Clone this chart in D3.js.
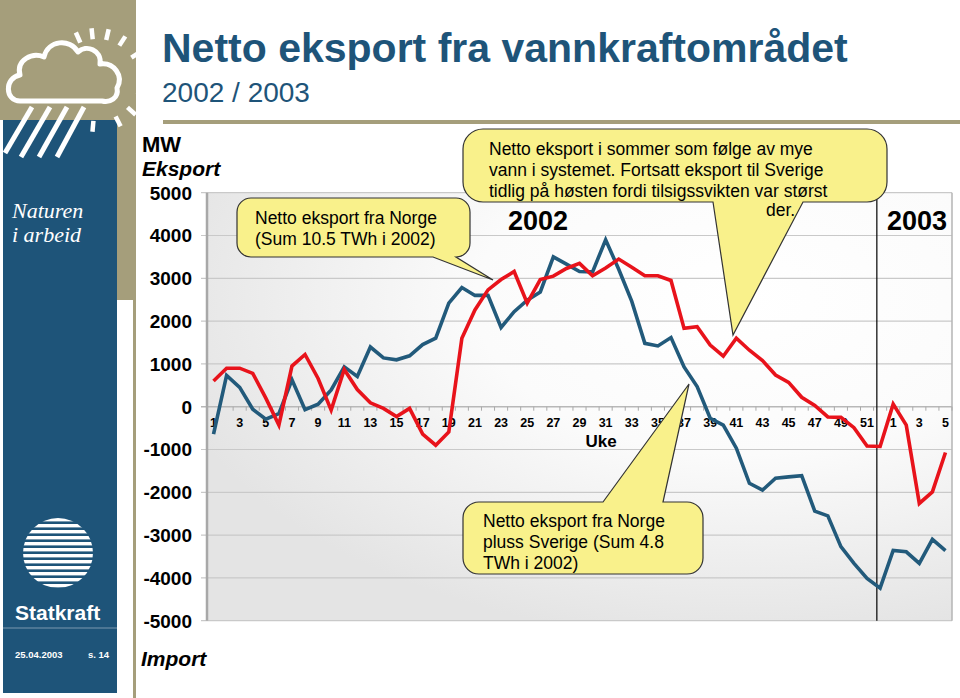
<!DOCTYPE html>
<html><head><meta charset="utf-8">
<script src="https://cdn.jsdelivr.net/npm/d3@7"></script>
<style>body{margin:0;background:#fff;} svg{display:block;font-family:"Liberation Sans",Arial,sans-serif;}</style>
</head><body><svg id="c" width="960" height="698"></svg>
<script>
// ---- data ----
const weeks = [1,2,3,4,5,6,7,8,9,10,11,12,13,14,15,16,17,18,19,20,21,22,23,24,25,26,27,28,29,30,31,32,33,34,35,36,37,38,39,40,41,42,43,44,45,46,47,48,49,50,51,52,1,2,3,4,5];
const norge = [600,900,900,780,200,-430,950,1220,660,-80,870,400,90,-40,-230,-40,-640,-900,-590,1600,2260,2730,2970,3160,2420,2970,3050,3230,3350,3060,3240,3450,3260,3060,3060,2950,1830,1870,1440,1180,1600,1320,1080,740,570,220,30,-240,-250,-490,-920,-930,60,-430,-2260,-1990,-1070];
const norgeSverige = [-640,730,450,-60,-290,-160,630,-70,60,390,930,705,1395,1140,1095,1190,1450,1600,2420,2785,2600,2600,1850,2220,2490,2680,3500,3330,3160,3150,3900,3210,2460,1480,1420,1615,930,470,-270,-430,-970,-1790,-1950,-1670,-1640,-1610,-2440,-2550,-3270,-3660,-4010,-4240,-3360,-3390,-3660,-3100,-3360];
const yTicks = [5000,4000,3000,2000,1000,0,-1000,-2000,-3000,-4000,-5000];
const yearLabels = ["2002","2003"];
const callout1 = ["Netto eksport fra Norge","(Sum 10.5 TWh i 2002)"];
const callout2 = ["Netto eksport i sommer som følge av mye","vann i systemet. Fortsatt eksport til Sverige","tidlig på høsten fordi tilsigssvikten var størst"];
const callout3 = ["Netto eksport fra Norge","pluss Sverige (Sum 4.8","TWh i 2002)"];

const svg = d3.select("#c");
const KHAKI = "#a59e7b", BLUE = "#1e5479", YEL = "#f9f18b";
const RED = "#e8131b", LBLUE = "#225a7b";

// ---- sidebar ----
svg.append("rect").attr("x",0).attr("y",0).attr("width",136).attr("height",120).attr("fill",KHAKI);
svg.append("rect").attr("x",117).attr("y",0).attr("width",19).attr("height",300).attr("fill",KHAKI);
svg.append("rect").attr("x",133).attr("y",0).attr("width",3).attr("height",698).attr("fill",KHAKI);
svg.append("rect").attr("x",3).attr("y",120).attr("width",114).attr("height",573).attr("fill",BLUE);
// icon
const ic = svg.append("g").attr("fill","none").attr("stroke","#fff").attr("stroke-linecap","butt");
const sunC = [97,80];
[-114,-96,-77,-57,-33,-12,16,42,63,95].forEach(a=>{
  const r = a*Math.PI/180;
  ic.append("line").attr("x1",sunC[0]+41*Math.cos(r)).attr("y1",sunC[1]+41*Math.sin(r))
    .attr("x2",sunC[0]+52*Math.cos(r)).attr("y2",sunC[1]+52*Math.sin(r)).attr("stroke-width",4.5);
});
ic.append("path").attr("stroke-width",5).attr("stroke-linejoin","round")
  .attr("d","M20 101 C5 101,4 78,20 75 C16 60,32 52,44 57 C48 40,70 38,78 52 C86 44,102 50,100 64 C114 62,124 76,117 88 C119 98,110 103,102 101 Z");
[[32,107,5,153],[50,107,21,157],[67,107,39,157],[84,107,57,157]].forEach(l=>{
  ic.append("line").attr("x1",l[0]).attr("y1",l[1]).attr("x2",l[2]).attr("y2",l[3]).attr("stroke-width",5);
});
svg.append("text").attr("x",12).attr("y",218).attr("fill","#fff").attr("font-family","'Liberation Serif',serif").attr("font-style","italic").attr("font-size",22).text("Naturen");
svg.append("text").attr("x",12).attr("y",242).attr("fill","#fff").attr("font-family","'Liberation Serif',serif").attr("font-style","italic").attr("font-size",22).text("i arbeid");
// statkraft globe
const defs = svg.append("defs");
defs.append("clipPath").attr("id","globe").append("circle").attr("cx",58).attr("cy",553).attr("r",35);
const gl = svg.append("g").attr("clip-path","url(#globe)");
for(let i=0;i<12;i++){
  gl.append("rect").attr("x",20).attr("y",518+i*6).attr("width",80).attr("height",3.4).attr("fill","#fff");
}
gl.append("path").attr("fill",BLUE).attr("d","M23 518 A35 35 0 0 0 23 588 A40 40 0 0 1 23 518 Z");
svg.append("text").attr("x",15).attr("y",620).attr("fill","#fff").attr("font-weight","bold").attr("font-size",21).text("Statkraft");
svg.append("line").attr("x1",3).attr("x2",117).attr("y1",628).attr("y2",628).attr("stroke","#7a98b0").attr("stroke-width",1);
svg.append("text").attr("x",15).attr("y",658).attr("fill","#fff").attr("font-weight","bold").attr("font-size",9.5).text("25.04.2003");
svg.append("text").attr("x",88).attr("y",658).attr("fill","#fff").attr("font-weight","bold").attr("font-size",9.5).text("s. 14");

// ---- title ----
svg.append("rect").attr("x",163).attr("y",120).attr("width",797).attr("height",4).attr("fill",KHAKI);
svg.append("text").attr("x",162).attr("y",62).attr("fill",BLUE).attr("font-weight","bold").attr("font-size",41).text("Netto eksport fra vannkraftområdet");
svg.append("text").attr("x",162).attr("y",102).attr("fill",BLUE).attr("font-size",28).text("2002 / 2003");

// ---- plot ----
const L=207, R=952, T=192.7, B=620.7;
const x = d3.scalePoint().domain(d3.range(weeks.length)).range([L,R]).padding(0.5);
const y = d3.scaleLinear().domain([-5000,5000]).range([B,T]);

const rg = defs.append("radialGradient").attr("id","bg").attr("cx","0.72").attr("cy","0.25").attr("r","0.8");
rg.append("stop").attr("offset","0").attr("stop-color","#ffffff");
rg.append("stop").attr("offset","0.45").attr("stop-color","#fbfbfb");
rg.append("stop").attr("offset","1").attr("stop-color","#e4e4e4");
svg.append("rect").attr("x",L).attr("y",T).attr("width",R-L).attr("height",B-T).attr("fill","url(#bg)");

// grid
svg.append("g").selectAll("line").data(yTicks).join("line")
  .attr("x1",L-6).attr("x2",R).attr("y1",d=>y(d)).attr("y2",d=>y(d))
  .attr("stroke",d=>d===0?"#b8b8b8":"#c9c9c9").attr("stroke-width",d=>d===0?1.5:1.2);
svg.append("line").attr("x1",L).attr("x2",L).attr("y1",T).attr("y2",B).attr("stroke","#a8a8a8").attr("stroke-width",2.5);
svg.append("line").attr("x1",R).attr("x2",R).attr("y1",T).attr("y2",B).attr("stroke","#b5b5b5").attr("stroke-width",1.5);

// y tick labels
svg.append("g").selectAll("text").data(yTicks).join("text")
  .attr("x",192).attr("y",d=>y(d)).attr("dy","0.36em").attr("text-anchor","end")
  .attr("font-weight","bold").attr("font-size",19).attr("fill","#000").text(d=>d);
svg.append("text").attr("x",142).attr("y",152).attr("font-weight","bold").attr("font-size",22).text("MW");
svg.append("text").attr("x",142).attr("y",176).attr("font-weight","bold").attr("font-style","italic").attr("font-size",21).text("Eksport");
svg.append("text").attr("x",141).attr("y",666).attr("font-weight","bold").attr("font-style","italic").attr("font-size",21).text("Import");

// x axis ticks on zero line
const step = x.step();
svg.append("g").selectAll("line").data(d3.range(weeks.length+1)).join("line")
  .attr("x1",i=>L+i*step).attr("x2",i=>L+i*step).attr("y1",y(0)).attr("y2",y(0)+4)
  .attr("stroke","#aaa").attr("stroke-width",1);
svg.append("g").selectAll("text").data(weeks.map((w,i)=>({w,i})).filter(d=>d.w%2===1)).join("text")
  .attr("x",d=>x(d.i)).attr("y",y(0)+20).attr("text-anchor","middle")
  .attr("font-weight","bold").attr("font-size",12.5).text(d=>d.w);
svg.append("text").attr("x",601).attr("y",447).attr("text-anchor","middle").attr("font-weight","bold").attr("font-size",17).text("Uke");

// year divider
const divX = x(51) - step*0.25;
svg.append("line").attr("x1",divX).attr("x2",divX).attr("y1",T).attr("y2",B).attr("stroke","#000").attr("stroke-width",1.2);

// year labels
svg.append("text").attr("x",508).attr("y",230).attr("font-weight","bold").attr("font-size",27).text(yearLabels[0]);
svg.append("text").attr("x",887).attr("y",230).attr("font-weight","bold").attr("font-size",27).text(yearLabels[1]);

// ---- callouts ----
function calloutPath(x0,y0,x1,y1,r,side,b1,b2,tx,ty){
  if(side==="bottom"){
    return `M${x0+r},${y0} H${x1-r} A${r},${r} 0 0 1 ${x1},${y0+r} V${y1-r} A${r},${r} 0 0 1 ${x1-r},${y1} H${b2} L${tx},${ty} L${b1},${y1} H${x0+r} A${r},${r} 0 0 1 ${x0},${y1-r} V${y0+r} A${r},${r} 0 0 1 ${x0+r},${y0} Z`;
  } else {
    return `M${x0+r},${y0} H${b1} L${tx},${ty} L${b2},${y0} H${x1-r} A${r},${r} 0 0 1 ${x1},${y0+r} V${y1-r} A${r},${r} 0 0 1 ${x1-r},${y1} H${x0+r} A${r},${r} 0 0 1 ${x0},${y1-r} V${y0+r} A${r},${r} 0 0 1 ${x0+r},${y0} Z`;
  }
}
const co = svg.append("g");
co.append("path").attr("d",calloutPath(237,198,470,257,14,"bottom",433,456,493,280)).attr("fill",YEL).attr("stroke","#333").attr("stroke-width",1.2);
callout1.forEach((t,i)=>co.append("text").attr("x",255).attr("y",223.5+i*21.5).attr("font-size",17.5).text(t));

co.append("path").attr("d",calloutPath(463,129,887,202,20,"bottom",713,803,733,335)).attr("fill",YEL).attr("stroke","#333").attr("stroke-width",1.2);
callout2.forEach((t,i)=>co.append("text").attr("x",489).attr("y",155+i*20.8).attr("font-size",17.5).text(t));
co.append("text").attr("x",766).attr("y",216).attr("font-size",17.5).text("der.");

co.append("path").attr("d",calloutPath(463,502,703,574,16,"top",603,663,689,384)).attr("fill",YEL).attr("stroke","#333").attr("stroke-width",1.2);
callout3.forEach((t,i)=>co.append("text").attr("x",483).attr("y",526.5+i*21).attr("font-size",17.5).text(t));

// ---- lines ----
const line = d3.line().x((d,i)=>x(i)).y(d=>y(d));
svg.append("path").datum(norgeSverige).attr("d",line).attr("fill","none").attr("stroke",LBLUE).attr("stroke-width",3.6).attr("stroke-linejoin","miter");
svg.append("path").datum(norge).attr("d",line).attr("fill","none").attr("stroke",RED).attr("stroke-width",3.6).attr("stroke-linejoin","miter");
</script></body></html>
